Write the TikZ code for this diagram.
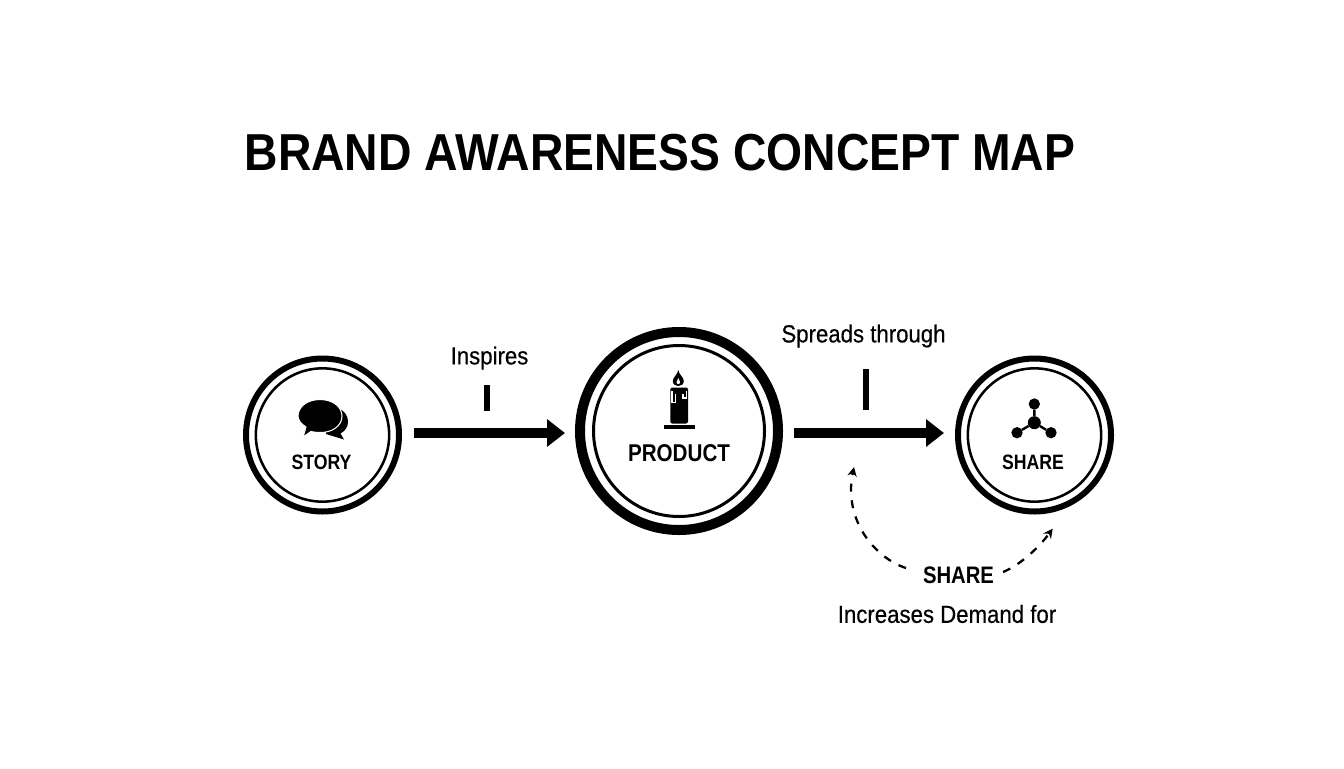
\documentclass[tikz,border=0pt]{standalone}
\usepackage{fontspec}
\usetikzlibrary{arrows.meta}
\setmainfont[FakeStretch=0.90,FakeBold=0.4]{Liberation Sans}
\newfontfamily\medfont[FakeStretch=0.85]{Liberation Sans Bold}
\newfontfamily\boldfont[FakeStretch=0.89]{Liberation Sans Bold}
\tikzset{
  ringbig/.style={circle,draw=black,line width=4.5pt,minimum size=114.75pt,inner sep=0pt,outer sep=0pt},
  ringthin/.style={circle,draw=black,line width=1.9pt,minimum size=100pt,inner sep=0pt,outer sep=0pt},
  ringprod/.style={circle,draw=black,line width=7.5pt,minimum size=148.5pt,inner sep=0pt,outer sep=0pt},
  ringprodin/.style={circle,draw=black,line width=2.25pt,minimum size=128.25pt,inner sep=0pt,outer sep=0pt},
  flow/.style={draw=black,line width=7pt,-{Triangle[length=13.5pt,width=20pt]}},
  tickbar/.style={fill=black,inner sep=0pt,outer sep=0pt,minimum width=4.5pt},
  loopline/.style={draw=black,line width=1.7pt,dash pattern=on 6pt off 6.5pt,-{Stealth[length=7pt,width=7pt]}},
  label/.style={inner sep=0pt,outer sep=0pt,text=black},
  dot/.style={circle,fill=black,inner sep=0pt,outer sep=0pt},
}
\begin{document}
\begin{tikzpicture}[x=0.75pt,y=-0.75pt]
\useasboundingbox (0,0) rectangle (1344,768);
\fill[white] (0,0) rectangle (1344,768);

\node[label] (title) at (660,153) {\boldfont\fontsize{39pt}{44pt}\selectfont BRAND AWARENESS CONCEPT MAP};

% circles
\node[ringbig] (story) at (322.5,435) {};
\node[ringthin] (storyin) at (322.5,435) {};
\node[ringprod] (product) at (679,431) {};
\node[ringprodin] (productin) at (679,431) {};
\node[ringbig] (share) at (1034.5,435) {};
\node[ringthin] (sharein) at (1034.5,435) {};

\node[label] (storytxt) at (321.5,462.5) {\medfont\fontsize{15.6pt}{18pt}\selectfont STORY};
\node[label] (producttxt) at (679,453.5) {\medfont\fontsize{18.2pt}{20pt}\selectfont PRODUCT};
\node[label] (sharetxt) at (1033,462.5) {\medfont\fontsize{15.6pt}{18pt}\selectfont SHARE};

% edge labels
\node[label] (inspires) at (489.5,358) {\fontsize{18.5pt}{20pt}\selectfont Inspires};
\node[label] (spreads) at (863.5,336) {\fontsize{18.5pt}{20pt}\selectfont Spreads through};
\node[label] (sharelbl) at (958.5,575.5) {\medfont\fontsize{17.9pt}{20pt}\selectfont SHARE};
\node[label] (demand) at (947,614) {\fontsize{18.5pt}{20pt}\selectfont Increases Demand for};

% ticks
\node[tickbar,minimum height=19.5pt] (tickone) at (487,398) {};
\node[tickbar,minimum height=30.75pt] (ticktwo) at (866,389.5) {};

% main arrows
\draw[flow] ([xshift=11.25pt,yshift=1.5pt]story.east) -- ([xshift=-11.25pt,yshift=-1.5pt]product.west);
\draw[flow] ([xshift=12pt,yshift=-1.5pt]product.east) -- ([xshift=-10.5pt,yshift=1.5pt]share.west);

% dashed loop
\coordinate (loopend) at (854,467);
\draw[loopline] ([xshift=-12.75pt,yshift=5.6pt]sharelbl.west) .. controls (875,558) and (843,520) .. (loopend);
\draw[loopline,shorten >=25.5pt] ([xshift=6.75pt,yshift=2.6pt]sharelbl.east) .. controls (1022,564) and (1040,546) .. (share.-60);

% speech bubbles
\fill[black] (344,439.5) -- (326,434) -- (330,407) .. controls (342,407) and (348,414) .. (348,422)
  .. controls (348,427) and (345,431) .. (340.5,433.5) -- cycle;
\filldraw[fill=black,draw=white,line width=0.8pt] (320,399.5) .. controls (333,399.5) and (342,407) .. (342,416)
  .. controls (342,426) and (332,433) .. (319,432.5)
  .. controls (316,432.5) and (313,432) .. (311,431.5)
  -- (303,437) -- (306,427)
  .. controls (301,424) and (298,420) .. (298,416)
  .. controls (298,407) and (307,399.5) .. (320,399.5) -- cycle;

% candle
\fill[black] (664,424.8) rectangle (694.5,428.8);
\fill[black,rounded corners=1.5pt] (670.3,387.5) rectangle (688,423.5);
\draw[white,line width=0.9pt] (672,391) -- (672,402.5) -- (675.5,402.5) -- (675.5,394);
\draw[white,line width=0.9pt] (686.5,391) -- (686.5,398) -- (683,398) -- (683,394);
\fill[black] (678.3,370) .. controls (679,375) and (683.8,377) .. (683.8,381)
  .. controls (683.8,384.5) and (681,386) .. (678.3,386)
  .. controls (675.5,386) and (672.8,384.5) .. (672.8,381)
  .. controls (672.8,377) and (677.5,375) .. (678.3,370) -- cycle;
\fill[white] (678.3,378) .. controls (678.8,379.5) and (680,380.5) .. (680,382)
  .. controls (680,383.5) and (679.3,384) .. (678.3,384)
  .. controls (677.3,384) and (676.6,383.5) .. (676.6,382)
  .. controls (676.6,380.5) and (677.8,379.5) .. (678.3,378) -- cycle;

% network icon
\node[dot,minimum size=9.75pt] (hub) at (1034.3,422.7) {};
\node[dot,minimum size=8.5pt] (nodetop) at (1034.3,404) {};
\node[dot,minimum size=8.5pt] (nodeleft) at (1017,432.7) {};
\node[dot,minimum size=8.5pt] (noderight) at (1051,432.7) {};
\draw[black,line width=1.8pt] (hub) -- (nodetop) (hub) -- (nodeleft) (hub) -- (noderight);
\end{tikzpicture}
\end{document}
